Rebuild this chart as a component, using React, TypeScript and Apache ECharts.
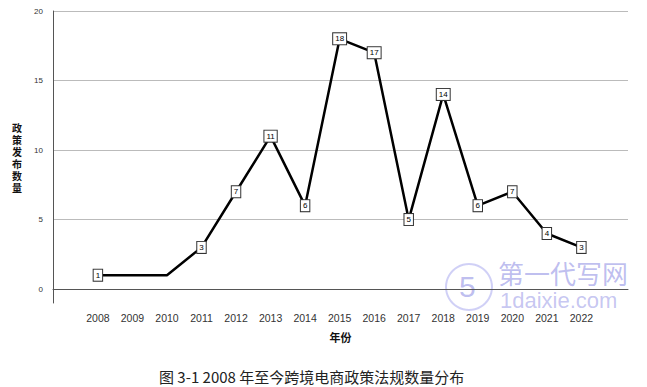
import React, { useEffect, useRef } from "react";
import * as echarts from "echarts";

const years = [2008, 2009, 2010, 2011, 2012, 2013, 2014, 2015, 2016, 2017, 2018, 2019, 2020, 2021, 2022];
const counts = [1, 1, 1, 3, 7, 11, 6, 18, 17, 5, 14, 6, 7, 4, 3];
const showLabel = [true, false, false, true, true, true, true, true, true, true, true, true, true, true, true];
const yTicks = [0, 5, 10, 15, 20];
const yAxisName = "政策发布数量";
const xAxisName = "年份";
const caption = "图 3-1 2008 年至今跨境电商政策法规数量分布";

export default function App() {
  const ref = useRef<HTMLDivElement>(null);
  useEffect(() => {
    if (!ref.current) return;
    const chart = echarts.init(ref.current, null, { renderer: "svg" });
    const data = years.map((y, i) => ({
      value: [y, counts[i]],
      label: { show: showLabel[i] },
    }));
    chart.setOption({
      animation: false,
      backgroundColor: "#fff",
      grid: { left: 53, right: 19, top: 11, bottom: 84 },
      xAxis: {
        type: "value",
        min: 2006.7,
        max: 2023.35,
        name: xAxisName,
        nameLocation: "middle",
        nameGap: 28,
        nameTextStyle: { fontSize: 11, fontWeight: "bold", color: "#111", fontFamily: "Noto Sans CJK SC" },
        axisLine: { show: true, lineStyle: { color: "#555", width: 1 } },
        axisTick: { show: false, customValues: years },
        axisLabel: {
          customValues: years,
          formatter: (v: number) => String(Math.round(v)),
          fontSize: 10.5,
          color: "#333",
          margin: 9,
          fontFamily: "Liberation Sans",
        },
        splitLine: { show: false },
      },
      yAxis: {
        type: "value",
        min: -1,
        max: 20,
        name: yAxisName.split("").join("\n"),
        nameLocation: "middle",
        nameRotate: 0,
        nameGap: 31,
        nameTextStyle: { fontSize: 10, fontWeight: "bold", color: "#111", lineHeight: 12, fontFamily: "Noto Sans CJK SC" },
        axisLine: { show: true, lineStyle: { color: "#555", width: 1 } },
        axisTick: { show: false, customValues: yTicks },
        axisLabel: { customValues: yTicks, fontSize: 8, color: "#333", margin: 10, fontFamily: "Liberation Sans" },
        splitLine: { show: true, lineStyle: { color: "#bbb", width: 1 } },
      },
      series: [
        {
          type: "line",
          data,
          symbol: "circle",
          symbolSize: 0.1,
          showSymbol: true,
          itemStyle: { color: "transparent" },
          lineStyle: { color: "#000", width: 2.5 },
          label: {
            show: true,
            position: "inside",
            fontSize: 8,
            color: "#000",
            backgroundColor: "#fff",
            borderColor: "#333",
            borderWidth: 1,
            padding: [2, 2, 1, 2],
            fontFamily: "Liberation Sans",
          },
        },
      ],
      graphic: [
        {
          type: "text",
          x: 159,
          y: 369,
          style: { text: caption, fontSize: 15, fill: "#222", fontFamily: "Noto Sans CJK SC" },
        },
        {
          type: "ring",
          shape: { cx: 469, cy: 287, r: 24, r0: 22 },
          style: { fill: "rgba(120,120,230,0.35)" },
        },
        {
          type: "text",
          x: 459,
          y: 271,
          style: { text: "5", fontSize: 30, fill: "rgba(110,110,220,0.45)", fontFamily: "Liberation Sans" },
        },
        {
          type: "text",
          x: 498,
          y: 259,
          style: { text: "第一代写网", fontSize: 26, fill: "rgba(110,110,220,0.45)", fontFamily: "Noto Sans CJK SC" },
        },
        {
          type: "text",
          x: 500,
          y: 289,
          style: { text: "1daixie.com", fontSize: 22, fill: "rgba(110,110,220,0.4)", fontFamily: "Liberation Sans" },
        },
      ],
    });
    return () => chart.dispose();
  }, []);
  return (
    <div
      ref={ref}
      style={{ position: "absolute", left: 0, top: 0, width: 647, height: 387 }}
    />
  );
}
